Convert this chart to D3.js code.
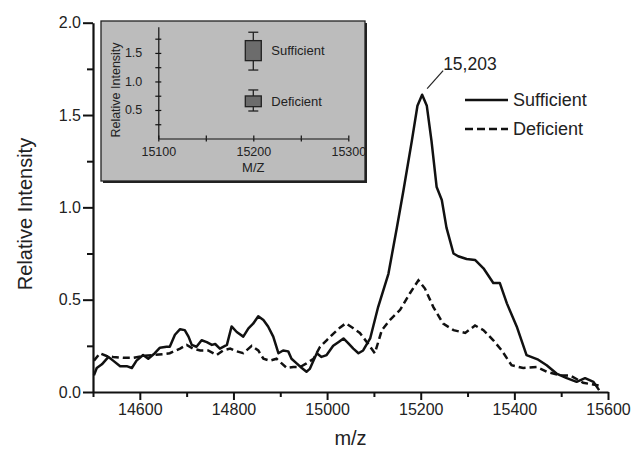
<!DOCTYPE html>
<html>
<head>
<meta charset="utf-8">
<script src="https://cdn.jsdelivr.net/npm/d3@7"></script>
<style>
  body { margin: 0; background: #fff; }
  svg { display: block; font-family: Arial, "Liberation Sans", sans-serif; }
  .axis path, .axis line { stroke: #111; }
  .axis text { fill: #222; }
</style>
</head>
<body>
<div id="chart"></div>
<script>
var width = 633, height = 451;

// main spectra [m/z, relative intensity]
var sufficient = [
  [14502,0.09],[14508,0.13],[14519,0.15],[14533,0.19],[14543,0.17],[14558,0.14],[14572,0.14],
  [14583,0.13],[14593,0.17],[14607,0.20],[14618,0.18],[14632,0.21],[14643,0.24],[14657,0.245],
  [14664,0.245],[14675,0.31],[14686,0.34],[14696,0.335],[14704,0.30],[14711,0.255],[14721,0.245],
  [14732,0.28],[14743,0.27],[14754,0.255],[14761,0.26],[14771,0.235],[14786,0.255],[14796,0.355],
  [14807,0.325],[14821,0.30],[14832,0.345],[14842,0.37],[14853,0.41],[14864,0.39],[14874,0.355],
  [14885,0.30],[14896,0.21],[14906,0.225],[14917,0.22],[14924,0.18],[14935,0.155],[14946,0.13],
  [14956,0.11],[14963,0.125],[14971,0.17],[14978,0.21],[14988,0.19],[14999,0.20],[15013,0.25],
  [15024,0.27],[15035,0.29],[15045,0.265],[15056,0.235],[15067,0.21],[15077,0.225],[15092,0.29],
  [15109,0.46],[15131,0.64],[15149,0.89],[15163,1.09],[15181,1.36],[15193,1.55],[15203,1.61],
  [15213,1.55],[15223,1.36],[15234,1.11],[15245,1.04],[15255,0.89],[15270,0.75],[15280,0.735],
  [15298,0.72],[15316,0.715],[15334,0.67],[15355,0.59],[15369,0.59],[15384,0.48],[15405,0.355],
  [15426,0.20],[15451,0.175],[15469,0.145],[15490,0.10],[15512,0.075],[15533,0.055],[15551,0.075],
  [15569,0.055],[15581,0.01]
];
var deficient = [
  [14502,0.17],[14515,0.21],[14529,0.195],[14543,0.19],[14565,0.185],[14586,0.185],[14607,0.195],
  [14629,0.20],[14650,0.205],[14664,0.21],[14686,0.235],[14700,0.255],[14714,0.235],[14729,0.225],
  [14746,0.225],[14764,0.20],[14778,0.225],[14793,0.235],[14807,0.22],[14821,0.21],[14839,0.25],
  [14853,0.225],[14864,0.18],[14878,0.17],[14892,0.18],[14903,0.155],[14914,0.13],[14928,0.135],
  [14942,0.135],[14956,0.155],[14971,0.18],[14985,0.245],[14999,0.28],[15013,0.315],[15028,0.35],
  [15040,0.372],[15056,0.345],[15070,0.32],[15085,0.27],[15102,0.21],[15117,0.335],[15134,0.39],
  [15156,0.445],[15177,0.535],[15195,0.605],[15209,0.56],[15227,0.46],[15248,0.37],[15270,0.335],
  [15295,0.32],[15316,0.36],[15334,0.335],[15355,0.28],[15373,0.225],[15394,0.145],[15419,0.13],
  [15448,0.135],[15469,0.11],[15497,0.09],[15519,0.09],[15547,0.05],[15580,0.035]
];
var xTicks = [14600, 14800, 15000, 15200, 15400, 15600];
var xMinor = [14500, 14700, 14900, 15100, 15300, 15500];
var yTicks = [0, 0.5, 1.0, 1.5, 2.0];
var yMinor = [0.25, 0.75, 1.25, 1.75];
var peak = { mz: 15203, value: 1.61, label: "15,203" };
var seriesNames = ["Sufficient", "Deficient"];

// inset box plots: [low whisker, q1, q3, high whisker]
var insetNames = ["Sufficient", "Deficient"];
var insetMz = [15200, 15200];
var insetBoxes = [[1.20, 1.365, 1.716, 1.863], [0.482, 0.558, 0.746, 0.851]];
var insetXTicks = [15100, 15200, 15300];
var insetXMinor = [15150, 15250];
var insetYTicks = [0.5, 1.0, 1.5];
var insetYMinor = [0.25, 0.75, 1.25, 1.75];

var svg = d3.select("#chart").append("svg")
  .attr("width", width)
  .attr("height", height);

var x = d3.scaleLinear().domain([14500, 15600]).range([93, 608]);
var y = d3.scaleLinear().domain([0, 2]).range([392, 22.7]);

// axes
var xAxis = svg.append("g").attr("class", "axis")
  .attr("transform", "translate(0," + y(0) + ")")
  .call(d3.axisBottom(x).tickValues(xTicks).tickFormat(d3.format("d"))
    .tickSize(8).tickSizeOuter(0).tickPadding(4));
xAxis.select(".domain").attr("stroke-width", 2.2);
xAxis.selectAll(".tick line").attr("stroke-width", 2);
xAxis.selectAll("text").style("font-size", "16px");

svg.append("g").attr("class", "axis")
  .attr("transform", "translate(0," + y(0) + ")")
  .call(d3.axisBottom(x).tickValues(xMinor).tickFormat("").tickSize(5).tickSizeOuter(0))
  .call(function(g) { g.select(".domain").remove(); g.selectAll("line").attr("stroke-width", 2); });

var yAxis = svg.append("g").attr("class", "axis")
  .attr("transform", "translate(" + x(14500) + ",0)")
  .call(d3.axisLeft(y).tickValues(yTicks).tickFormat(d3.format(".1f"))
    .tickSize(10).tickSizeOuter(0).tickPadding(2));
yAxis.select(".domain").attr("stroke-width", 2.2);
yAxis.selectAll(".tick line").attr("stroke-width", 2);
yAxis.selectAll("text").style("font-size", "16px");

svg.append("g").attr("class", "axis")
  .attr("transform", "translate(" + x(14500) + ",0)")
  .call(d3.axisLeft(y).tickValues(yMinor).tickFormat("").tickSize(6).tickSizeOuter(0))
  .call(function(g) { g.select(".domain").remove(); g.selectAll("line").attr("stroke-width", 2); });

// axis titles
svg.append("text")
  .attr("x", (x.range()[0] + x.range()[1]) / 2)
  .attr("y", 445)
  .attr("text-anchor", "middle")
  .style("font-size", "20px").attr("fill", "#222")
  .text("m/z");

svg.append("text")
  .attr("transform", "translate(32,214) rotate(-90)")
  .attr("text-anchor", "middle")
  .style("font-size", "20px").attr("fill", "#222")
  .text("Relative Intensity");

// spectra
var line = d3.line()
  .x(function(d) { return x(d[0]); })
  .y(function(d) { return y(d[1]); });

svg.append("path").datum(deficient)
  .attr("d", line)
  .attr("fill", "none").attr("stroke", "#111")
  .attr("stroke-width", 2.5).attr("stroke-dasharray", "7,4");

svg.append("path").datum(sufficient)
  .attr("d", line)
  .attr("fill", "none").attr("stroke", "#111")
  .attr("stroke-width", 2.5).attr("stroke-linejoin", "round");

// peak label
svg.append("line")
  .attr("x1", x(peak.mz) + 5).attr("y1", y(peak.value) - 6)
  .attr("x2", x(peak.mz) + 21).attr("y2", y(peak.value) - 24)
  .attr("stroke", "#222").attr("stroke-width", 1.2);
svg.append("text")
  .attr("x", x(peak.mz) + 21).attr("y", y(peak.value) - 25)
  .style("font-size", "17.5px").attr("fill", "#222")
  .text(peak.label);

// legend
var legend = svg.append("g").attr("transform", "translate(465,100)");
seriesNames.forEach(function(name, i) {
  var g = legend.append("g").attr("transform", "translate(0," + (i * 29) + ")");
  g.append("line").attr("x1", 0).attr("x2", 43).attr("y1", 0).attr("y2", 0)
    .attr("stroke", "#111").attr("stroke-width", 2.5)
    .attr("stroke-dasharray", i === 0 ? null : "8,4");
  g.append("text").attr("x", 48).attr("y", 0).attr("dy", "0.35em")
    .style("font-size", "18px").attr("fill", "#222")
    .text(name);
});

// inset
var inset = svg.append("g");
inset.append("rect")
  .attr("x", 103).attr("y", 23).attr("width", 264).attr("height", 160)
  .attr("fill", "#222");
inset.append("rect")
  .attr("x", 101).attr("y", 21).attr("width", 264).attr("height", 160)
  .attr("fill", "#bcbcbc").attr("stroke", "#222").attr("stroke-width", 1.3);

var xi = d3.scaleLinear().domain([15100, 15300]).range([158.3, 348.3]);
var yi = d3.scaleLinear().domain([0, 1.96]).range([138.5, 26.7]);

function styleInset(g) {
  g.selectAll("path, line").attr("stroke", "#222").attr("stroke-width", 1.2);
  g.selectAll("text").style("font-size", "12.5px").attr("fill", "#222");
}

inset.append("g").attr("class", "axis")
  .attr("transform", "translate(0," + yi(0) + ")")
  .call(d3.axisBottom(xi).tickValues(insetXTicks.concat(insetXMinor))
    .tickFormat(function(d) { return insetXTicks.indexOf(d) >= 0 ? d : ""; })
    .tickSize(3).tickSizeOuter(0).tickPadding(6))
  .call(styleInset);
inset.append("g").attr("class", "axis")
  .attr("transform", "translate(0," + yi(0) + ")")
  .call(d3.axisTop(xi).tickValues(insetXTicks.concat(insetXMinor)).tickFormat("").tickSize(3).tickSizeOuter(0))
  .call(function(g) { g.select(".domain").remove(); styleInset(g); });

inset.append("g").attr("class", "axis")
  .attr("transform", "translate(" + xi(15100) + ",0)")
  .call(d3.axisLeft(yi).tickValues(insetYTicks.concat(insetYMinor))
    .tickFormat(function(d) { return insetYTicks.indexOf(d) >= 0 ? d3.format(".1f")(d) : ""; })
    .tickSize(3).tickSizeOuter(0).tickPadding(13))
  .call(styleInset);
inset.append("g").attr("class", "axis")
  .attr("transform", "translate(" + xi(15100) + ",0)")
  .call(d3.axisRight(yi).tickValues(insetYTicks.concat(insetYMinor)).tickFormat("").tickSize(3).tickSizeOuter(0))
  .call(function(g) { g.select(".domain").remove(); styleInset(g); });

inset.append("text")
  .attr("x", xi(15200)).attr("y", 172)
  .attr("text-anchor", "middle")
  .style("font-size", "13px").attr("fill", "#222")
  .text("M/Z");
inset.append("text")
  .attr("transform", "translate(120,90) rotate(-90)")
  .attr("text-anchor", "middle")
  .style("font-size", "12.5px").attr("fill", "#222")
  .text("Relative Intensity");

insetBoxes.forEach(function(b, i) {
  var cx = xi(insetMz[i]);
  var g = inset.append("g");
  g.append("line").attr("x1", cx).attr("x2", cx).attr("y1", yi(b[0])).attr("y2", yi(b[3]))
    .attr("stroke", "#222").attr("stroke-width", 1.3);
  [b[0], b[3]].forEach(function(v) {
    g.append("line").attr("x1", cx - 5).attr("x2", cx + 5).attr("y1", yi(v)).attr("y2", yi(v))
      .attr("stroke", "#222").attr("stroke-width", 1.3);
  });
  g.append("rect")
    .attr("x", cx - 8).attr("width", 16)
    .attr("y", yi(b[2])).attr("height", yi(b[1]) - yi(b[2]))
    .attr("fill", "#6c6c6c").attr("stroke", "#222").attr("stroke-width", 1.3);
  g.append("text")
    .attr("x", cx + 18).attr("y", yi((b[1] + b[2]) / 2)).attr("dy", "0.35em")
    .style("font-size", "13px").attr("fill", "#222")
    .text(insetNames[i]);
});
</script>
</body>
</html>
